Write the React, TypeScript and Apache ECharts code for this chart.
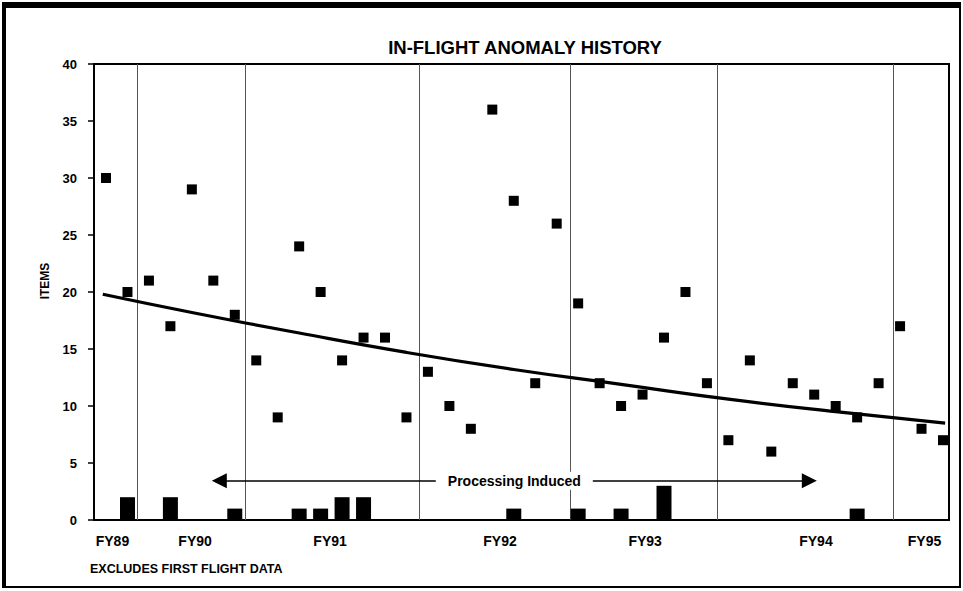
import React, { useEffect, useRef } from "react";
import * as echarts from "echarts";

// Flight sequence (excluding first flight), FY89 - FY95
const flightIndex = [
  1, 2, 3, 4, 5, 6, 7, 8, 9, 10, 11, 12, 13, 14, 15, 16, 17, 18, 19, 20,
  21, 22, 23, 24, 25, 26, 27, 28, 29, 30, 31, 32, 33, 34, 35, 36, 37, 38, 39, 40,
];
// In-flight anomaly items per flight
const anomalyItems = [
  30, 20, 21, 17, 29, 21, 18, 14, 9, 24, 20, 14, 16, 16, 9, 13, 10, 8, 36, 28,
  12, 26, 19, 12, 10, 11, 16, 20, 12, 7, 14, 6, 12, 11, 10, 9, 12, 17, 8, 7,
];
// Processing induced items
const processingFlights = [2, 4, 7, 10, 11, 12, 13, 20, 23, 25, 27, 36];
const processingItems = [2, 2, 1, 1, 1, 2, 2, 1, 1, 1, 3, 1];
// Trend line
const trendX = [0.85, 5, 10, 15, 20, 25, 30, 35, 40.1];
const trendY = [19.8, 18.2, 16.4, 14.7, 13.2, 11.9, 10.6, 9.5, 8.5];
// Fiscal-year boundaries (in flight index units)
const fyBoundaries = [2.46, 7.51, 15.6, 22.62, 29.5, 37.66];
// FY labels and their positions
const fyLabels = ["FY89", "FY90", "FY91", "FY92", "FY93", "FY94", "FY95"];
const fyLabelPos = [1.3, 5.15, 11.44, 19.36, 26.12, 34.08, 39.14];
// Processing-induced arrow
const arrowLevel = 3.45;
const arrowFrom = 6.28;
const arrowTo = 33.77;

const FONT = "'Liberation Sans', Arial, Helvetica, sans-serif";

export default function App() {
  const ref = useRef<HTMLDivElement>(null);

  useEffect(() => {
    const chart = echarts.init(ref.current!, null, { renderer: "svg" });

    const option: any = {
      animation: false,
      backgroundColor: "#fff",
      textStyle: { fontFamily: FONT },
      grid: {
        show: true,
        left: 94,
        right: 14,
        top: 64,
        bottom: 71,
        borderColor: "#000",
        borderWidth: 2,
        containLabel: false,
      },
      xAxis: {
        type: "value",
        min: 0.44,
        max: 40.28,
        axisLine: { show: true, onZero: false, lineStyle: { color: "#000", width: 2 } },
        axisTick: { show: false },
        splitLine: { show: false },
        axisLabel: {
          customValues: fyLabelPos,
          formatter: (v: number) => {
            let best = 0;
            for (let i = 0; i < fyLabelPos.length; i++) {
              if (Math.abs(fyLabelPos[i] - v) < Math.abs(fyLabelPos[best] - v)) best = i;
            }
            return fyLabels[best];
          },
          color: "#000",
          fontWeight: "bold",
          fontSize: 14,
          fontFamily: FONT,
          margin: 14,
        },
      },
      yAxis: {
        type: "value",
        min: 0,
        max: 40,
        interval: 5,
        axisLine: { show: true, lineStyle: { color: "#000", width: 2 } },
        axisTick: { show: true, inside: false, length: 6, lineStyle: { color: "#000", width: 1.5 } },
        splitLine: { show: false },
        axisLabel: {
          color: "#000",
          fontWeight: "bold",
          fontSize: 13,
          fontFamily: FONT,
          margin: 17,
        },
      },
      series: [
        {
          type: "bar",
          name: "Processing Induced",
          data: processingFlights.map((f, i) => [f, processingItems[i]]),
          barWidth: 15,
          itemStyle: { color: "#000", opacity: 1 },
          z: 3,
          markLine: {
            silent: true,
            symbol: "none",
            label: { show: false },
            lineStyle: { color: "#555", width: 1, type: "solid" },
            data: fyBoundaries.map((b) => ({ xAxis: b })),
            z: 1,
          },
        },
        {
          type: "scatter",
          name: "Items",
          data: flightIndex.map((f, i) => [f, anomalyItems[i]]),
          symbol: "rect",
          symbolSize: 10,
          itemStyle: { color: "#000", opacity: 1 },
          z: 4,
        },
        {
          type: "line",
          name: "Trend",
          data: trendX.map((x, i) => [x, trendY[i]]),
          smooth: true,
          showSymbol: false,
          lineStyle: { color: "#000", width: 3.2 },
          z: 5,
          markLine: {
            silent: true,
            symbol: ["triangle", "triangle"],
            symbolSize: 15,
            lineStyle: { color: "#000", width: 1.5, type: "solid" },
            label: {
              show: true,
              position: "insideMiddle",
              distance: 0,
              formatter: "Processing Induced",
              color: "#000",
              fontWeight: "bold",
              fontSize: 14,
              fontFamily: FONT,
              backgroundColor: "#fff",
              padding: [2, 12],
            },
            data: [
              [
                { coord: [arrowFrom, arrowLevel] },
                { coord: [arrowTo, arrowLevel] },
              ],
            ],
          },
        },
      ],
      graphic: [
        // outer frame
        { type: "rect", shape: { x: 2, y: 2, width: 959, height: 6 }, style: { fill: "#000" } },
        { type: "rect", shape: { x: 2, y: 2, width: 4, height: 586 }, style: { fill: "#000" } },
        { type: "rect", shape: { x: 959, y: 2, width: 2, height: 586 }, style: { fill: "#000" } },
        { type: "rect", shape: { x: 2, y: 586, width: 959, height: 2 }, style: { fill: "#000" } },
        {
          type: "text",
          x: 525,
          y: 47,
          style: {
            text: "IN-FLIGHT ANOMALY HISTORY",
            fill: "#000",
            font: `bold 18.5px ${FONT}`,
            textAlign: "center",
            textVerticalAlign: "middle",
          },
        },
        {
          type: "text",
          x: 45,
          y: 281,
          rotation: Math.PI / 2,
          style: {
            text: "ITEMS",
            fill: "#000",
            font: `bold 12px ${FONT}`,
            textAlign: "center",
            textVerticalAlign: "middle",
          },
        },
        {
          type: "text",
          x: 90,
          y: 569,
          style: {
            text: "EXCLUDES FIRST FLIGHT DATA",
            fill: "#000",
            font: `bold 12.5px ${FONT}`,
            textAlign: "left",
            textVerticalAlign: "middle",
          },
        },
      ],
    };

    chart.setOption(option);
    return () => chart.dispose();
  }, []);

  return (
    <div
      ref={ref}
      style={{ position: "absolute", left: 0, top: 0, width: 963, height: 591, background: "#fff" }}
    />
  );
}
